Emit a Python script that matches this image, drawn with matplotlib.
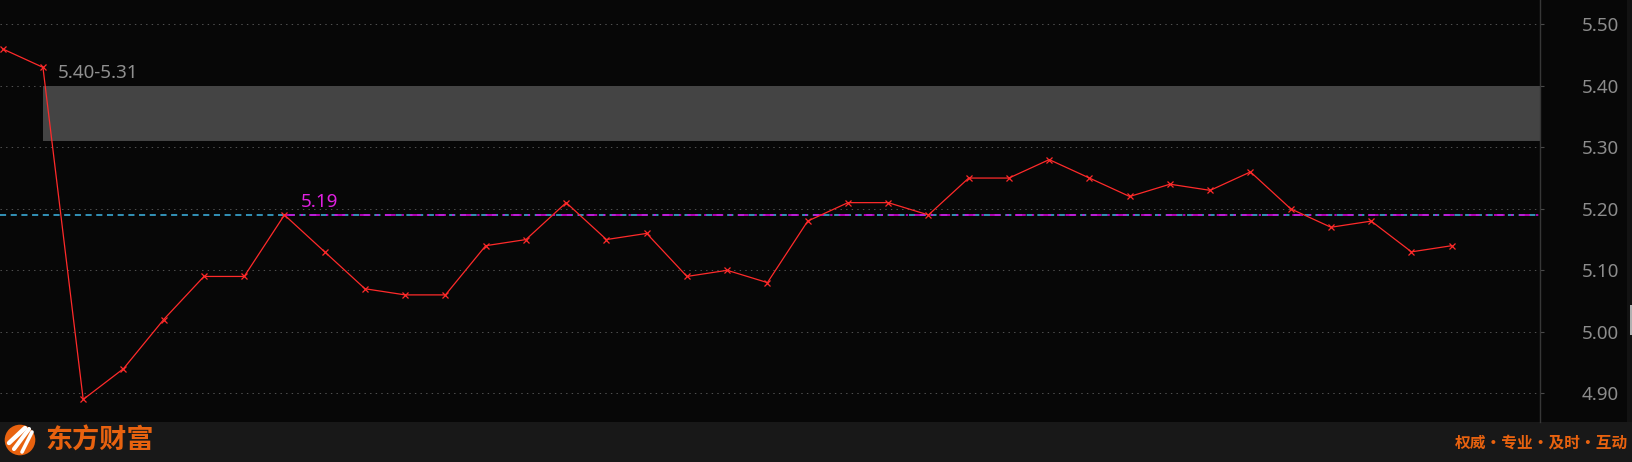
import matplotlib
matplotlib.use("Agg")
import matplotlib.pyplot as plt
from matplotlib.patches import Rectangle, Circle

# ---- data ----
prices = [5.46, 5.43, 4.89, 4.94, 5.02, 5.09, 5.09, 5.19, 5.13, 5.07,
          5.06, 5.06, 5.14, 5.15, 5.21, 5.15, 5.16, 5.09, 5.10, 5.08,
          5.18, 5.21, 5.21, 5.19, 5.25, 5.25, 5.28, 5.25, 5.22, 5.24,
          5.23, 5.26, 5.20, 5.17, 5.18, 5.13, 5.14]
yticks = [4.90, 5.00, 5.10, 5.20, 5.30, 5.40, 5.50]
ytick_labels = ["4.90", "5.00", "5.10", "5.20", "5.30", "5.40", "5.50"]
zone_high = 5.40
zone_low = 5.31
zone_start = 1
zone_label = "5.40-5.31"
ref_value = 5.19
ref_index = 7
ref_label = "5.19"
brand_text = "东方财富"
slogan_text = "权威・专业・及时・互动"

W, H = 1633, 462
BG = "#070707"
fig = plt.figure(figsize=(W / 100, H / 100), dpi=100, facecolor=BG)

# overlay in pixel coordinates for footer / decorations
deco = fig.add_axes([0, 0, 1, 1], zorder=0)
deco.set_xlim(0, W)
deco.set_ylim(H, 0)
deco.axis("off")
deco.add_patch(Rectangle((0, 422), W, 40, color="#181818", lw=0))
deco.add_patch(Rectangle((1627, 0), 6, 422, color="#121212", lw=0))
deco.add_patch(Rectangle((1630, 305), 3, 30, color="#b0b0b0", lw=0))
# logo
deco.add_patch(Circle((20, 440), 15.3, color="#e8620f", lw=0))
for (x0, y0, x1, y1, w) in [(9, 443, 25, 428, 3.2), (14, 449, 29, 429, 3.0), (22, 452, 32, 432, 2.6)]:
    deco.plot([x0, x1], [y0, y1], color="white", lw=w, solid_capstyle="round")
deco.text(45, 441, brand_text, color="#e8620f", fontsize=19.5, fontweight="bold",
          family=["Noto Sans CJK SC", "DejaVu Sans"], ha="left", va="center")
deco.text(1628, 443, slogan_text, color="#e8620f", fontsize=11.3, fontweight="bold",
          family=["Noto Sans CJK SC", "DejaVu Sans"], ha="right", va="center")

# main chart
ax = fig.add_axes([0, 40 / H, 1540 / W, 422 / H], zorder=2)
ax.set_facecolor(BG)
x = list(range(len(prices)))
x0px, step = 2.7, 40.25
ax.set_xlim(-x0px / step, (1540 - x0px) / step)
ax.set_ylim(5.50 - (422 - 24.3) / 615, 5.50 + 24.3 / 615)

for s in ["top", "left", "bottom"]:
    ax.spines[s].set_visible(False)
ax.spines["right"].set_color("#363636")
ax.spines["right"].set_linewidth(1)

ax.set_yticks(yticks)
ax.set_yticklabels(ytick_labels, family="Noto Sans")
ax.yaxis.tick_right()
ax.tick_params(axis="y", colors="#4a4a4a", length=3, width=0.8, pad=27,
               labelcolor="#8c8c8c", labelsize=13.5)
ax.set_xticks([])
ax.yaxis.grid(True, color="#505050", linestyle=(0, (1.4, 4.2)), lw=0.72)
ax.set_axisbelow(True)

# zone
ax.fill_between([zone_start, 60], zone_low, zone_high, color="#444444", lw=0, zorder=1)
ax.text(zone_start + 0.37, 5.421, zone_label, color="#8f8f8f", fontsize=13.5,
        family="Noto Sans", ha="left", va="center", zorder=5)

# reference line
ax.axhline(ref_value, color="#3fb6e6", linestyle=(0, (4, 3)), lw=1.1, zorder=2)
ax.hlines(ref_value, ref_index, 60, color="#e000e0", linestyle=(0, (7, 4, 1.5, 4)), lw=1.1, zorder=3)
ax.text(ref_index + 0.41, 5.2115, ref_label, color="#e020e0", fontsize=13.5,
        family="Noto Sans", ha="left", va="center", zorder=5)

# price line
ax.plot(x, prices, color="#ff2a2a", lw=0.9, marker="x", ms=5, mew=0.9, zorder=4)

fig.savefig("out.png", dpi=100, facecolor=BG)
